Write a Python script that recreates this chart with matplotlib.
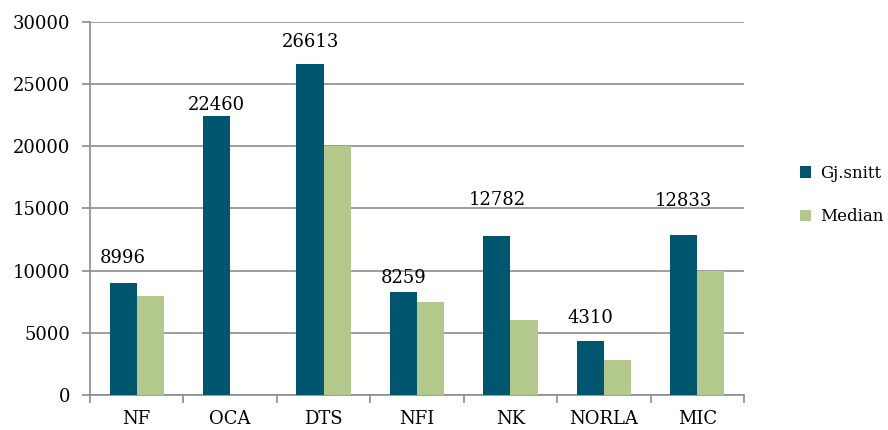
import matplotlib
matplotlib.use("Agg")
import matplotlib.pyplot as plt
import numpy as np

categories = ["NF", "OCA", "DTS", "NFI", "NK", "NORLA", "MIC"]
gj_snitt = [8996, 22460, 26613, 8259, 12782, 4310, 12833]
median = [8000, 0, 20000, 7500, 6000, 2800, 10000]
yticks = [0, 5000, 10000, 15000, 20000, 25000, 30000]

# vertical gap (points) between bar top and label centre, as placed in the original
label_gap_pt = [18, 8, 16, 10, 26, 17, 25]

plt.rcParams['font.family'] = ['DejaVu Serif']
teal = "#00566E"
green = "#B3C98B"
gray = "#8C8C8C"

fig = plt.figure(figsize=(8.88, 4.30), dpi=100)
ax = fig.add_axes([90/888, 35/430, (744-90)/888, (395-22)/430])

x = np.arange(len(categories))
w = 0.29
b1 = ax.bar(x - w/2, gj_snitt, w, color=teal, label="Gj.snitt", zorder=3)
b2 = ax.bar(x + w/2, median, w, color=green, label="Median", zorder=3)

for xi, v, g in zip(x, gj_snitt, label_gap_pt):
    ax.annotate(f"{v}", (xi - w/2, v), xytext=(0, g), textcoords="offset points",
                ha="center", va="center", fontsize=13)

ax.set_xlim(-0.5, len(categories) - 0.5)
ax.set_ylim(0, 30000)
ax.set_yticks(yticks)
ax.set_yticklabels([str(t) for t in yticks], fontsize=13)
ax.yaxis.grid(True, color=gray, linewidth=1.2, zorder=0)
ax.set_axisbelow(True)

ax.set_xticks(np.arange(-0.5, len(categories), 1.0))
ax.set_xticklabels([])
ax.set_xticks(x, minor=True)
ax.set_xticklabels(categories, minor=True, fontsize=13)
ax.tick_params(axis='x', which='minor', length=0, pad=11)
ax.tick_params(axis='x', which='major', length=6, color=gray, width=1.2)
ax.tick_params(axis='y', length=6, color=gray, width=1.2, pad=8)

for s in ['top', 'right']:
    ax.spines[s].set_visible(False)
for s in ['left', 'bottom']:
    ax.spines[s].set_color(gray)
    ax.spines[s].set_linewidth(1.2)

fig.legend(handles=[b1, b2], loc="center left", bbox_to_anchor=(788/888, 1 - 195/430),
           frameon=False, fontsize=12, labelspacing=1.6, handlelength=0.7,
           handleheight=0.7, handletextpad=0.5, borderpad=0.2)

fig.savefig("out.png", dpi=100)
